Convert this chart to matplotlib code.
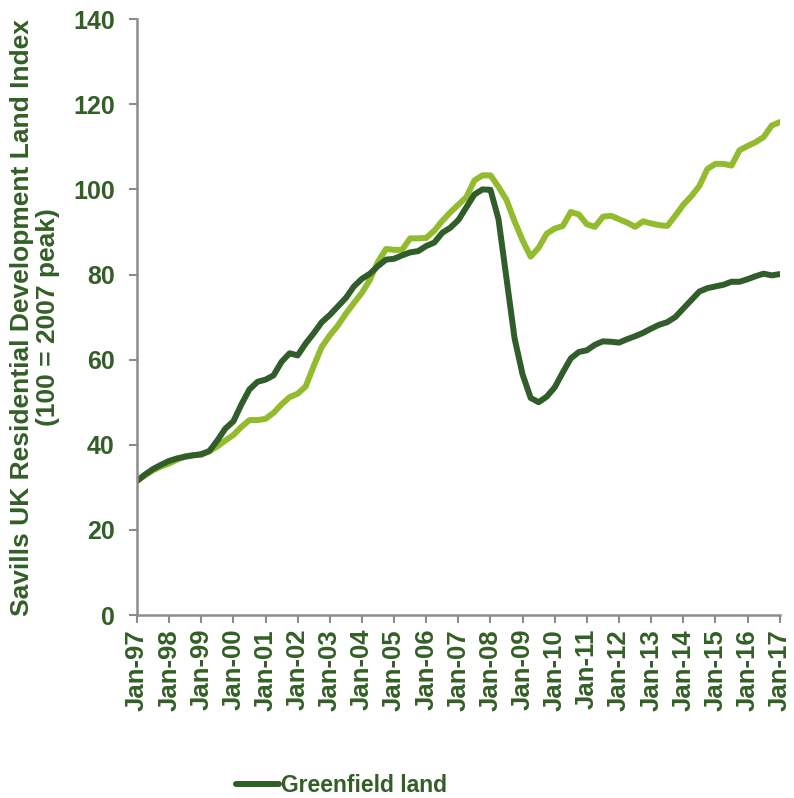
import numpy as np
import matplotlib
matplotlib.use('Agg')
import matplotlib.pyplot as plt

# quarterly index, Q1 1997 .. Q1 2017 (100 = 2007 peak)
greenfield = [31.5, 33, 34.3, 35.3, 36.2, 36.8, 37.2, 37.5, 37.8, 38.5, 41, 43.8,
              45.5, 49.5, 53, 54.8, 55.3, 56.3, 59.5, 61.5, 61, 63.8, 66.2, 68.8,
              70.5, 72.5, 74.5, 77.2, 79, 80.2, 82, 83.5, 83.7, 84.5, 85.2, 85.5,
              86.7, 87.5, 89.8, 91, 92.8, 95.8, 98.8, 100, 99.9, 93, 79, 65,
              56.5, 51, 50, 51.3, 53.5, 57, 60.3, 61.8, 62.2, 63.5, 64.3, 64.2,
              64, 64.8, 65.5, 66.3, 67.3, 68.2, 68.8, 70, 72, 74, 76, 76.8,
              77.2, 77.6, 78.3, 78.3, 78.9, 79.6, 80.2, 79.8, 80.1]
urban = [31.5, 32.8, 34, 34.9, 35.6, 36.5, 37.3, 37.6, 37.6, 38.5, 39.6, 41,
         42.3, 44.2, 45.8, 45.8, 46.1, 47.5, 49.5, 51.2, 52, 53.7, 58.5, 63,
         65.7, 68, 70.8, 73.3, 75.7, 78.8, 83, 86, 85.8, 85.8, 88.5, 88.5,
         88.6, 90.3, 92.6, 94.6, 96.4, 98.2, 102.1, 103.3, 103.3, 100.6, 97.5, 92.5,
         88, 84.2, 86.3, 89.6, 90.8, 91.4, 94.7, 94.1, 91.8, 91.2, 93.6, 93.8,
         93, 92.2, 91.2, 92.5, 92, 91.6, 91.4, 93.8, 96.4, 98.4, 100.8, 104.8,
         106, 106, 105.6, 109.2, 110.2, 111.1, 112.3, 115, 115.8]
year_labels = ['Jan-97', 'Jan-98', 'Jan-99', 'Jan-00', 'Jan-01', 'Jan-02', 'Jan-03',
               'Jan-04', 'Jan-05', 'Jan-06', 'Jan-07', 'Jan-08', 'Jan-09', 'Jan-10',
               'Jan-11', 'Jan-12', 'Jan-13', 'Jan-14', 'Jan-15', 'Jan-16', 'Jan-17']

dark = '#305d2a'
light = '#93bb2e'
txt = '#335f27'
grey = '#8c8c8c'

plt.rcParams['font.family'] = ['Liberation Sans', 'DejaVu Sans']
plt.rcParams['font.weight'] = 'bold'

fig = plt.figure(figsize=(7.94, 7.98), dpi=100)
ax = fig.add_axes([0.1725, 0.2293, 0.8095, 0.7467])

q = np.arange(len(greenfield))
ax.plot(q, urban, c=light, lw=4.3, solid_capstyle='round', solid_joinstyle='round')
ax.plot(q, greenfield, c=dark, lw=4.3, solid_capstyle='round', solid_joinstyle='round',
        label='Greenfield land')

ax.set_xlim(0, 80)
ax.set_ylim(0, 140)
ax.set_yticks(range(0, 141, 20))
ax.set_xticks(np.arange(0, 81, 4))
ax.set_xticklabels(year_labels, rotation=90)
ax.tick_params(axis='y', colors=grey, labelcolor=txt, labelsize=18, length=6, width=1.5, pad=10)
ax.tick_params(axis='x', colors=grey, labelcolor=txt, labelsize=18.5, length=6, width=1.5, pad=4)
for lab in ax.get_xticklabels() + ax.get_yticklabels():
    lab.set_fontweight('bold')

for s in ['top', 'right']:
    ax.spines[s].set_visible(False)
for s in ['left', 'bottom']:
    ax.spines[s].set_color(grey)
    ax.spines[s].set_linewidth(1.8)

ax.set_ylabel('Savills UK Residential Development Land Index\n(100 = 2007 peak)',
              fontsize=19, color=txt, fontweight='bold', labelpad=9, linespacing=1.15)

fig.legend(loc='center', bbox_to_anchor=(0.43, 0.016), frameon=False, fontsize=16.5,
           handlelength=1.9, handletextpad=0.1, labelcolor=txt)

fig.savefig('out.png', dpi=100)
